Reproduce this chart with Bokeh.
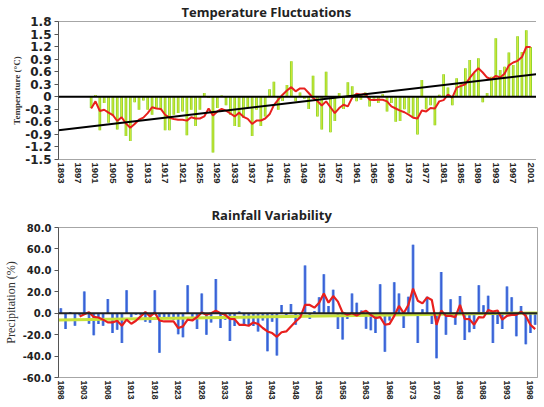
from bokeh.plotting import figure
from bokeh.models import Span, FixedTicker, CustomJSTickFormatter, NumeralTickFormatter, Range1d
from bokeh.layouts import column
from bokeh.embed import file_html
from bokeh.resources import INLINE

# ---------------- Temperature data ----------------
temp_years = list(range(1900, 2002))
temp_anom = [
    -0.27, 0.04, -0.80, -0.15, -0.62, -0.45, -0.78, -0.50, -0.94, -1.06,   # 1900-1909
    -0.13, -0.31, -0.09, -0.31, -0.43, -0.27, -0.31, -0.80, -0.80, -0.43,  # 1910-1919
    -0.39, -0.35, -0.92, -0.31, -0.70, -0.31, 0.09, -0.03, -1.33, -0.27,   # 1920-1929
    0.03, -0.20, -0.43, -0.70, -0.72, -0.50, -0.25, -0.94, -0.31, -0.70,   # 1930-1939
    -0.47, 0.18, 0.36, -0.31, -0.10, 0.28, 0.85, -0.11, 0.10, -0.05,       # 1940-1949
    -0.29, 0.50, -0.47, -0.78, 0.60, -0.85, -0.58, 0.09, -0.29, 0.35,      # 1950-1959
    0.25, -0.11, -0.07, 0.10, -0.23, -0.05, -0.15, 0.06, -0.35, -0.15,     # 1960-1969
    -0.60, -0.58, -0.30, -0.40, -0.50, -0.90, 0.40, -0.30, -0.20, -0.68,   # 1970-1979
    0.05, 0.54, 0.22, -0.20, 0.44, 0.32, 0.68, 0.88, 0.56, 0.92,           # 1980-1989
    -0.13, 0.09, 0.48, 1.40, 0.64, 0.72, 1.06, 0.76, 1.45, 1.07,           # 1990-1999
    1.59, 1.19,                                                            # 2000-2001
]
temp_smooth = [
    -0.28, -0.11, -0.34, -0.31, -0.38, -0.44, -0.58, -0.49, -0.64, -0.74,
    -0.65, -0.55, -0.50, -0.39, -0.25, -0.28, -0.29, -0.43, -0.50, -0.53,
    -0.55, -0.55, -0.57, -0.49, -0.52, -0.52, -0.47, -0.28, -0.45, -0.35,
    -0.29, -0.33, -0.40, -0.47, -0.38, -0.48, -0.53, -0.65, -0.57, -0.57,
    -0.52, -0.42, -0.20, -0.07, 0.05, 0.15, 0.23, 0.13, 0.20, 0.20,
    0.09, -0.03, -0.10, -0.21, -0.11, -0.25, -0.39, -0.27, -0.19, -0.23,
    -0.02, 0.07, 0.05, 0.07, -0.07, -0.08, -0.07, -0.07, -0.11, -0.23,
    -0.28, -0.33, -0.37, -0.43, -0.50, -0.52, -0.33, -0.35, -0.27, -0.28,
    -0.11, -0.08, 0.05, -0.02, 0.22, 0.26, 0.30, 0.45, 0.58, 0.68,
    0.58, 0.46, 0.42, 0.50, 0.46, 0.55, 0.75, 0.82, 0.86, 0.95,
    1.19, 1.19,
]
temp_trend_years = [1892.5, 2003.2]
temp_trend = [-0.80, 0.55]
temp_xticks = list(range(1893, 2002, 4))
temp_yticks = [-1.5, -1.2, -0.9, -0.6, -0.3, 0, 0.3, 0.6, 0.9, 1.2, 1.5, 1.8]

# ---------------- Rainfall data ----------------
rain_years = list(range(1898, 2000))
rain_pct = [
    4.6, -14.8, 1.2, -11.7, -2.0, 20.3, -9.8, -20.6, -10.0, -11.7,         # 1898-1907
    13.2, -18.5, -15.4, -27.7, 21.5, -3.7, -1.5, -2.0, -8.0, -9.0,         # 1908-1917
    21.5, -36.9, -5.0, -4.0, -6.0, -19.7, -22.5, 26.0, -6.8, -14.8,        # 1918-1927
    18.5, -20.0, -8.6, 32.0, -13.8, -6.0, -26.0, -12.0, 1.5, -10.8,        # 1928-1937
    -11.7, -12.0, -17.0, -6.8, -35.4, -8.0, -39.4, 7.7, -2.0, 8.6,         # 1938-1947
    -10.8, -2.0, 44.6, -5.5, 2.0, 14.8, 36.3, 6.8, 22.0, -14.8,            # 1948-1957
    -24.6, -5.5, 18.5, 9.8, 2.5, -14.5, -16.0, -18.5, 27.0, -36.0,         # 1958-1967
    -6.8, 29.0, 18.5, -13.8, 15.4, 64.0, -27.7, 3.7, 15.4, -10.0,          # 1968-1977
    -42.0, 38.5, -20.0, 13.0, -10.8, 16.0, -25.0, -17.8, -14.8, 26.0,      # 1978-1987
    7.4, 16.3, -27.7, -10.0, -14.8, 25.0, 14.8, -21.5, 6.8, -29.0,         # 1988-1997
    -18.5, -10.8,                                                          # 1998-1999
]
rain_smooth_years = list(range(1902, 2000))
rain_smooth = [
    -3.0, -1.0, 1.0, -3.5, -4.0, -6.0, -8.6, -8.6, -7.0, -11.7,            # 1902-1911
    -6.0, -9.8, -7.0, -3.0, 1.2, -3.0, 0.6, -6.8, -7.7, -7.7,              # 1912-1921
    -7.7, -13.8, -12.3, -6.0, -6.8, -3.7, 0.6, -1.5, 0.0, 2.2,             # 1922-1931
    0.0, -1.5, -5.2, -5.5, -10.8, -10.8, -11.7, -8.6, -10.0, -13.8,        # 1932-1941
    -17.0, -18.5, -22.0, -17.8, -17.0, -12.3, -7.7, -3.7, 7.7, 7.7,        # 1942-1951
    5.2, 9.8, 18.5, 9.8, 16.0, 10.8, 0.6, -1.5, 0.0, -2.2,                 # 1952-1961
    0.6, 2.2, -1.5, -4.6, -3.7, -10.8, -10.0, -2.5, 6.8, 0.0,              # 1962-1971
    7.7, 23.0, 11.7, 9.2, 14.8, 12.3, -10.8, 2.5, -2.5, -2.5,              # 1972-1981
    -3.7, 7.7, -5.2, -5.5, -10.8, -3.7, -4.0, 3.0, 1.5, 2.5,               # 1982-1991
    -6.0, -2.5, -1.5, -1.5, 1.5, -2.5, -10.8, -14.8,                       # 1992-1999
]
rain_trend_years = [1897.5, 1999.5]
rain_trend = [-6.3, 0.3]
rain_xticks = list(range(1898, 1999, 5))
rain_yticks = [-60, -40, -20, 0, 20, 40, 60, 80]

TICK_FONT = "DejaVu Sans"
XTICK_FONT = "Liberation Sans"
GREY = "#a6a6a6"


def style_axes(p, ytick_size, xtick_size, ylabel, ylabel_size, ylabel_style, ylabel_standoff):
    p.xgrid.visible = False
    p.ygrid.visible = False
    p.outline_line_color = GREY
    p.outline_line_width = 1
    p.background_fill_color = "white"
    p.border_fill_color = "white"

    xa = p.xaxis[0]
    xa.major_label_orientation = "vertical"
    xa.major_label_text_font = XTICK_FONT
    xa.major_label_text_font_style = "bold"
    xa.major_label_text_font_size = xtick_size
    xa.major_label_text_color = "#222222"
    xa.major_tick_out = 0
    xa.major_tick_in = 0
    xa.minor_tick_out = 0
    xa.minor_tick_in = 0
    xa.major_tick_line_color = None
    xa.minor_tick_line_color = None
    xa.axis_line_color = GREY
    xa.major_label_standoff = 3

    ya = p.yaxis[0]
    ya.major_label_text_font = TICK_FONT
    ya.major_label_text_font_style = "bold"
    ya.major_label_text_font_size = ytick_size
    ya.major_label_text_color = "#222222"
    ya.major_tick_out = 4
    ya.major_tick_in = 0
    ya.major_tick_line_color = "#555555"
    ya.minor_tick_line_color = None
    ya.axis_line_color = "#555555"
    ya.major_label_standoff = 3
    ya.axis_label = ylabel
    ya.axis_label_text_font = "Liberation Serif"
    ya.axis_label_text_font_style = ylabel_style
    ya.axis_label_text_font_size = ylabel_size
    ya.axis_label_text_color = "#333333"
    ya.axis_label_standoff = ylabel_standoff


# ---------------- Top chart ----------------
p1 = figure(frame_width=483, frame_height=138, x_range=Range1d(1892.5, 2003.5), y_range=Range1d(-1.5, 1.8),
            output_backend="svg", toolbar_location=None, title="Temperature Fluctuations",
            min_border_left=48, min_border_right=4, min_border_top=12, min_border_bottom=10)
p1.title.align = "left"
p1.title.offset = 123
p1.title.text_font = "Open Sans"
p1.title.text_font_style = "bold"
p1.title.text_font_size = "13px"
p1.title.text_color = "#222222"
p1.title.standoff = 1

p1.vbar(x=temp_years, top=temp_anom, bottom=0, width=0.62, fill_color="#86d427", line_color=None)
p1.vbar(x=temp_years, top=temp_anom, bottom=0, width=0.22, fill_color="#e4ea3c", line_color=None)
p1.add_layout(Span(location=0, dimension="width", line_color="black", line_width=2))
p1.line(temp_years, temp_smooth, line_color="#e8201e", line_width=2)
p1.line(temp_trend_years, temp_trend, line_color="black", line_width=2)

style_axes(p1, "12px", "9.5px", "Temperature (°C)", "9px", "bold", 0)
p1.xaxis[0].ticker = FixedTicker(ticks=temp_xticks)
p1.yaxis[0].ticker = FixedTicker(ticks=temp_yticks)
p1.yaxis[0].formatter = CustomJSTickFormatter(
    code="return Math.abs(tick) < 1e-9 ? '0' : tick.toFixed(1);")

# ---------------- Bottom chart ----------------
p2 = figure(frame_width=479, frame_height=150, x_range=Range1d(1897.5, 1999.5), y_range=Range1d(-60, 80),
            output_backend="svg", toolbar_location=None, title="Rainfall Variability",
            min_border_left=54, min_border_right=2, min_border_top=41, min_border_bottom=10)
p2.title.align = "left"
p2.title.offset = 153
p2.title.text_font = "Open Sans"
p2.title.text_font_style = "bold"
p2.title.text_font_size = "13px"
p2.title.text_color = "#222222"
p2.title.standoff = 8

p2.vbar(x=rain_years, top=rain_pct, bottom=0, width=0.62, fill_color="#6f9ce8", line_color=None)
p2.vbar(x=rain_years, top=rain_pct, bottom=0, width=0.34, fill_color="#3a5fd6", line_color=None)
p2.add_layout(Span(location=0, dimension="width", line_color="#222222", line_width=2))
p2.line(rain_trend_years, rain_trend, line_color="#c8e23a", line_width=3)
p2.line(rain_smooth_years, rain_smooth, line_color="#e8201e", line_width=2.2)

style_axes(p2, "10px", "8.5px", "Precipitation (%)", "12px", "normal", 2)
p2.xaxis[0].ticker = FixedTicker(ticks=rain_xticks)
p2.yaxis[0].ticker = FixedTicker(ticks=rain_yticks)
p2.yaxis[0].formatter = NumeralTickFormatter(format="0.0")

layout = column(p1, p2, spacing=0)
open("out.html", "w").write(file_html(layout, INLINE))
